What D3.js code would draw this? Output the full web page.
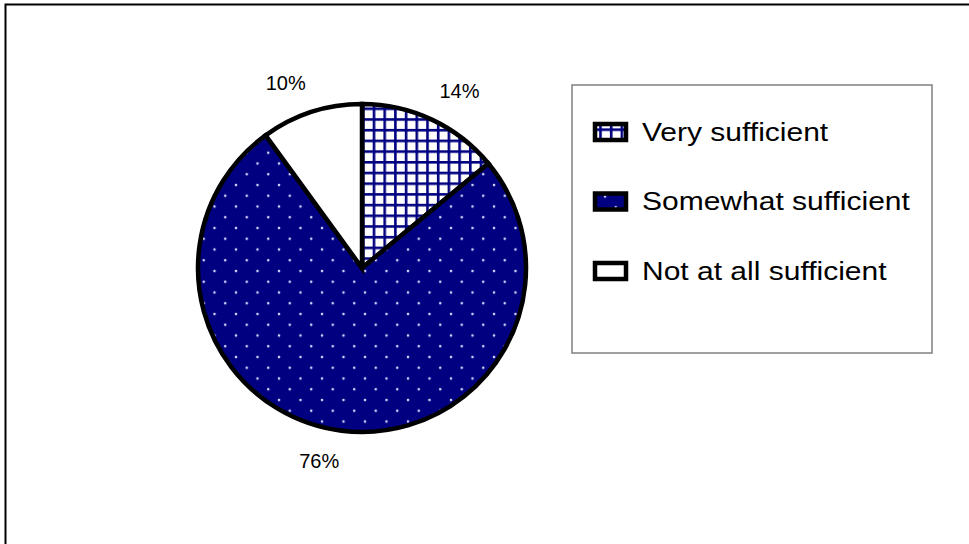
<!DOCTYPE html>
<html><head><meta charset="utf-8">
<script src="https://cdn.jsdelivr.net/npm/d3@7"></script>
<style>html,body{margin:0;padding:0;background:#fff;overflow:hidden}</style>
</head><body>
<svg id="chart" width="969" height="544"></svg>
<script>
const categories = ["Very sufficient", "Somewhat sufficient", "Not at all sufficient"];
const values = [14, 76, 10];
const labels = ["14%", "76%", "10%"];
const fills = ["url(#grid)", "url(#dots)", "#ffffff"];

const svg = d3.select("#chart");
const defs = svg.append("defs");

// cross-hatch pattern
const g1 = defs.append("pattern").attr("id", "grid").attr("patternUnits", "userSpaceOnUse")
  .attr("width", 10.7).attr("height", 10.7);
g1.append("rect").attr("width", 10.7).attr("height", 10.7).attr("fill", "#fff");
g1.append("rect").attr("x", 0).attr("y", 0).attr("width", 10.7).attr("height", 2.6).attr("fill", "#000080");
g1.append("rect").attr("x", 0).attr("y", 0).attr("width", 2.6).attr("height", 10.7).attr("fill", "#000080");

// dotted pattern
const g2 = defs.append("pattern").attr("id", "dots").attr("patternUnits", "userSpaceOnUse")
  .attr("width", 21.5).attr("height", 21.5);
g2.append("rect").attr("width", 21.5).attr("height", 21.5).attr("fill", "#000080");
g2.append("circle").attr("cx", 3).attr("cy", 3).attr("r", 1.3).attr("fill", "#d8d8ff");
g2.append("circle").attr("cx", 13.75).attr("cy", 13.75).attr("r", 1.3).attr("fill", "#d8d8ff");

// outer chart border (extends past the viewport)
svg.append("rect").attr("x", 5.5).attr("y", 4.5).attr("width", 1000).attr("height", 600)
  .attr("fill", "none").attr("stroke", "#000").attr("stroke-width", 2);

const cx = 362, cy = 268, R = 164;
const pie = d3.pie().sort(null).value(d => d)(values);
const arc = d3.arc().innerRadius(0).outerRadius(R);

const pg = svg.append("g").attr("transform", `translate(${cx},${cy})`);
pg.selectAll("path").data(pie).enter().append("path")
  .attr("d", arc)
  .attr("fill", (d, i) => fills[i])
  .attr("stroke", "#000").attr("stroke-width", 4.5).attr("stroke-linejoin", "miter");

// labels
const lr = 182;
pie.forEach((d, i) => {
  const a = (d.startAngle + d.endAngle) / 2;
  const s = Math.sin(a), c = -Math.cos(a);
  const px = lr * s, py = lr * c;
  const w = 40, h = 24;
  const tx = px + (s >= 0 ? w / 2 : -w / 2);
  const ty = py + (c >= 0 ? h / 2 : -h / 2);
  pg.append("text").attr("x", tx).attr("y", ty).attr("dy", "0.35em")
    .attr("text-anchor", "middle")
    .attr("font-family", "Liberation Sans, Arial, sans-serif").attr("font-size", 20)
    .attr("fill", "#000").text(labels[i]);
});

// legend
const lg = svg.append("g");
lg.append("rect").attr("x", 572).attr("y", 85).attr("width", 360).attr("height", 268)
  .attr("fill", "#fff").attr("stroke", "#808080").attr("stroke-width", 1.5);
const ly = d3.scalePoint().domain(categories).range([132, 271]);
categories.forEach((c, i) => {
  const y = ly(c);
  lg.append("rect").attr("x", 595).attr("y", y - 8).attr("width", 31).attr("height", 16)
    .attr("fill", fills[i]).attr("stroke", "#000").attr("stroke-width", 4.5);
  lg.append("text").attr("transform", `translate(642,${y}) scale(1.2,1)`).attr("dy", "0.35em")
    .attr("font-family", "Liberation Sans, Arial, sans-serif").attr("font-size", 25)
    .attr("fill", "#000").text(c);
});
</script>
</body></html>
